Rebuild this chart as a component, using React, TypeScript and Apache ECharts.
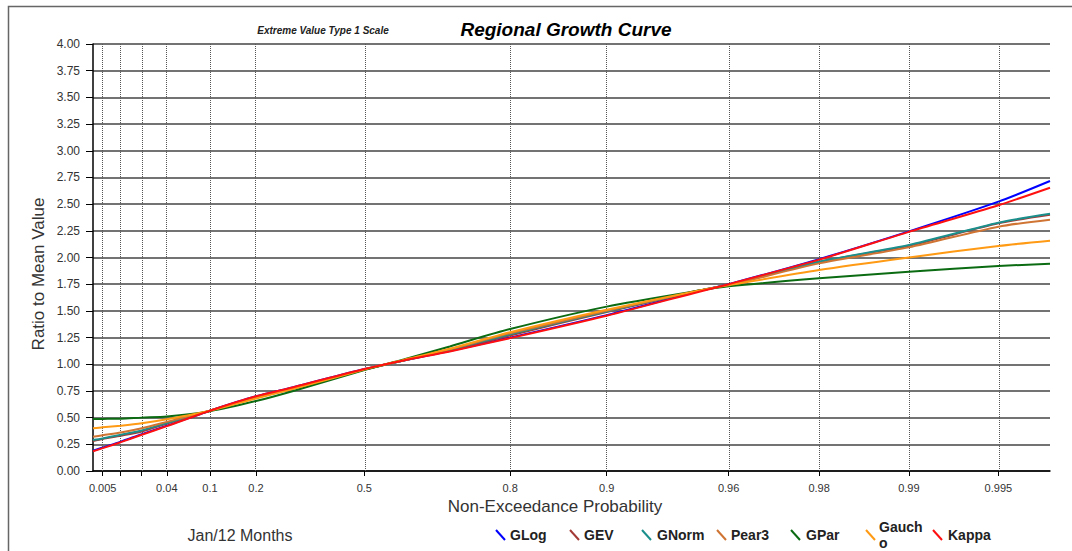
import React, { useEffect, useRef } from 'react';
import * as echarts from 'echarts';

// ---------- data ----------
const seriesNames = ['GLog', 'GEV', 'GNorm', 'Pear3', 'GPar', 'Gaucho', 'Kappa'];
const seriesColors = ['#0000ff', '#a33a36', '#1a8f8c', '#cf7433', '#0b6b12', '#ff9a14', '#ff1010'];

// non-exceedance probabilities at which the curves were read
const probabilities = [0.0033, 0.005, 0.01, 0.02, 0.04, 0.1, 0.2, 0.3, 0.5, 0.6, 0.7, 0.8, 0.9, 0.95, 0.96, 0.98, 0.99, 0.995, 0.99665];

const glogValues   = [0.19, 0.22, 0.275, 0.345, 0.425, 0.565, 0.70, 0.785, 0.955, 1.035, 1.125, 1.25, 1.46, 1.685, 1.75, 1.985, 2.245, 2.523, 2.717];
const gevValues    = [0.28, 0.30, 0.33, 0.37, 0.445, 0.565, 0.695, 0.78, 0.95, 1.035, 1.13, 1.27, 1.49, 1.69, 1.745, 1.96, 2.11, 2.32, 2.40];
const gnormValues  = [0.29, 0.305, 0.34, 0.38, 0.45, 0.565, 0.69, 0.775, 0.95, 1.035, 1.135, 1.28, 1.495, 1.69, 1.745, 1.96, 2.117, 2.326, 2.41];
const pear3Values  = [0.32, 0.335, 0.36, 0.40, 0.46, 0.565, 0.685, 0.77, 0.95, 1.037, 1.14, 1.29, 1.50, 1.69, 1.74, 1.945, 2.095, 2.289, 2.354];
const gparValues   = [0.487, 0.488, 0.49, 0.50, 0.51, 0.56, 0.655, 0.75, 0.945, 1.045, 1.167, 1.33, 1.54, 1.69, 1.73, 1.805, 1.867, 1.92, 1.942];
const gauchoValues = [0.40, 0.41, 0.425, 0.447, 0.485, 0.565, 0.68, 0.77, 0.95, 1.04, 1.145, 1.30, 1.51, 1.69, 1.74, 1.883, 2.00, 2.108, 2.157];
const kappaValues  = [0.185, 0.214, 0.27, 0.34, 0.42, 0.565, 0.70, 0.785, 0.955, 1.035, 1.12, 1.245, 1.455, 1.68, 1.75, 1.98, 2.24, 2.49, 2.654];

const seriesValues = [glogValues, gevValues, gnormValues, pear3Values, gparValues, gauchoValues, kappaValues];

const tickProbabilities = [0.005, 0.01, 0.02, 0.04, 0.1, 0.2, 0.5, 0.8, 0.9, 0.96, 0.98, 0.99, 0.995];
const tickLabels = ['0.005', '', '', '0.04', '0.1', '0.2', '0.5', '0.8', '0.9', '0.96', '0.98', '0.99', '0.995'];

const axisMinProbability = 0.0033;
const axisMaxProbability = 0.99665;

const titleText = 'Regional Growth Curve';
const subTitleText = 'Extreme Value Type 1 Scale';
const xAxisTitle = 'Non-Exceedance Probability';
const yAxisTitle = 'Ratio to Mean Value';
const periodText = 'Jan/12 Months';

// ---------- layout ----------
const FONT = '"Liberation Sans", Arial, sans-serif';
const legendIconX = [496, 570, 642, 717, 791, 866, 933];
const legendTextX = [510, 584, 657, 731, 806, 879, 948];

// Extreme Value Type 1 (Gumbel) reduced variate
const gumbel = (p: number) => -Math.log(-Math.log(p));

export default function App() {
  const ref = useRef<HTMLDivElement>(null);

  useEffect(() => {
    if (!ref.current) return;
    const chart = echarts.init(ref.current, undefined, { renderer: 'svg' });

    const tickX = tickProbabilities.map(gumbel);
    const labelX = tickX.filter((_, i) => tickLabels[i] !== '');
    const labelFor = (v: number) => {
      for (let i = 0; i < tickX.length; i++) {
        if (Math.abs(tickX[i] - v) < 1e-6) return tickLabels[i];
      }
      return '';
    };

    const centered = { align: 'center', verticalAlign: 'middle', textAlign: 'center', textVerticalAlign: 'middle' };

    const legendGraphics: any[] = [];
    seriesNames.forEach((name, i) => {
      legendGraphics.push({
        type: 'line',
        shape: { x1: legendIconX[i], y1: 530, x2: legendIconX[i] + 9, y2: 540 },
        style: { stroke: seriesColors[i], lineWidth: 2 },
        silent: true,
      });
      const label = name === 'Gaucho' ? 'Gauch\no' : name;
      legendGraphics.push({
        type: 'text',
        x: legendTextX[i],
        y: 535,
        style: {
          text: label,
          font: `bold 14px ${FONT}`,
          fill: '#222',
          align: 'left',
          verticalAlign: 'middle',
          textAlign: 'left',
          textVerticalAlign: 'middle',
          lineHeight: 16,
        },
        silent: true,
      });
    });

    const option: any = {
      animation: false,
      backgroundColor: '#ffffff',
      grid: { left: 93, right: 22, top: 44, bottom: 80, containLabel: false },
      xAxis: {
        type: 'value',
        min: gumbel(axisMinProbability),
        max: gumbel(axisMaxProbability),
        axisLine: { show: true, onZero: false, lineStyle: { color: '#000', width: 1.5 } },
        axisTick: { show: true, customValues: tickX, length: 5, lineStyle: { color: '#000', width: 1 } },
        axisLabel: {
          show: true,
          customValues: labelX,
          formatter: (v: number) => labelFor(v),
          fontSize: 11,
          color: '#333',
          fontFamily: FONT,
          margin: 11,
        },
        splitLine: { show: false },
      },
      yAxis: {
        type: 'value',
        min: 0,
        max: 4,
        interval: 0.25,
        axisLine: { show: true, onZero: false, lineStyle: { color: '#000', width: 1.5 } },
        axisTick: { show: true, length: 7, lineStyle: { color: '#000', width: 1 } },
        axisLabel: {
          formatter: (v: number) => v.toFixed(2),
          fontSize: 12,
          color: '#333',
          fontFamily: FONT,
          margin: 13,
        },
        splitLine: { show: true, lineStyle: { color: '#444', width: 1.6 } },
      },
      series: [
        {
          type: 'line',
          name: 'grid',
          data: [],
          z: 1,
          silent: true,
          markLine: {
            silent: true,
            symbol: 'none',
            label: { show: false },
            lineStyle: { color: '#555', width: 1, type: [1, 1] },
            data: tickX.map((x) => ({ xAxis: x })),
          },
        },
        ...seriesNames.map((name, i) => ({
          type: 'line',
          name,
          z: 3 + i,
          showSymbol: false,
          smooth: 0.25,
          lineStyle: { color: seriesColors[i], width: 2 },
          itemStyle: { color: seriesColors[i] },
          data: probabilities.map((p, j) => [gumbel(p), seriesValues[i][j]]),
        })),
      ],
      graphic: [
        {
          type: 'rect',
          shape: { x: 8.5, y: 6.5, width: 1100, height: 600 },
          style: { fill: 'none', stroke: '#666', lineWidth: 1.5 },
          silent: true,
          z: -1,
        },
        {
          type: 'text',
          x: 566,
          y: 29,
          style: { text: titleText, font: `italic bold 19px ${FONT}`, fill: '#000', ...centered },
          silent: true,
        },
        {
          type: 'text',
          x: 323,
          y: 30,
          style: { text: subTitleText, font: `italic bold 10px ${FONT}`, fill: '#222', ...centered },
          silent: true,
        },
        {
          type: 'text',
          x: 555,
          y: 506,
          style: { text: xAxisTitle, font: `17px ${FONT}`, fill: '#333', ...centered },
          silent: true,
        },
        {
          type: 'text',
          x: 38,
          y: 274,
          rotation: Math.PI / 2,
          style: { text: yAxisTitle, font: `17px ${FONT}`, fill: '#333', ...centered },
          silent: true,
        },
        {
          type: 'text',
          x: 240,
          y: 535,
          style: { text: periodText, font: `16px ${FONT}`, fill: '#333', ...centered },
          silent: true,
        },
        ...legendGraphics,
      ],
    };

    chart.setOption(option);
    return () => chart.dispose();
  }, []);

  return (
    <div
      ref={ref}
      style={{ position: 'fixed', left: 0, top: 0, width: 1072, height: 551, background: '#fff' }}
    />
  );
}
